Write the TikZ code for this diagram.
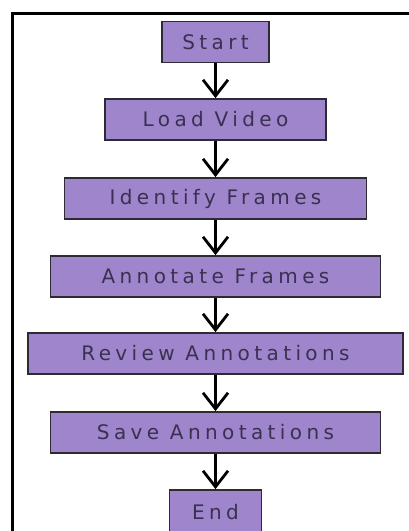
\documentclass[tikz,border=0pt]{standalone}
\usepackage{fontspec}
\setmainfont{DejaVu Sans}[LetterSpace=22.0]
\usetikzlibrary{arrows.meta}
\definecolor{boxfill}{HTML}{9E85CC}
\definecolor{boxline}{HTML}{2E2A33}
\definecolor{boxtext}{HTML}{3A3150}
\tikzset{
  stepbox/.style={draw=boxline, line width=1.8pt, fill=boxfill, rectangle,
    inner sep=0pt, minimum height=41pt, text=boxtext,
    font=\fontsize{20}{24}\selectfont},
  flow/.style={draw=black, line width=3.2pt,
    -{Straight Barb[length=16pt,width=25pt,line width=2.8pt]}},
  frame/.style={draw=black, line width=3pt}
}
\begin{document}
\begin{tikzpicture}[x=1pt,y=-1pt]
  \useasboundingbox (0,0) rectangle (408,531);
  % page frame: top and left rules
  \coordinate (ftr) at (410,13);
  \coordinate (ftl) at (12,13);
  \coordinate (fbl) at (12,533);
  \draw[frame] (ftr) -- (ftl) -- (fbl);

  \node[stepbox, minimum width=107pt] (start) at (215.5,42) {Start};
  \node[stepbox, minimum width=221pt] (load)  at (215.5,119.5) {Load Video};
  \node[stepbox, minimum width=302pt] (ident) at (215.5,198.5) {Identify Frames};
  \node[stepbox, minimum width=330pt] (annot) at (215.5,276.5) {Annotate Frames};
  \node[stepbox, minimum width=375pt] (review) at (215.5,353.5) {Review Annotations};
  \node[stepbox, minimum width=330pt] (save)  at (215.5,432.5) {Save Annotations};
  \node[stepbox, minimum width=92pt, minimum height=44pt] (end) at (215.5,512) {End};

  \draw[flow] (start) -- (load);
  \draw[flow] (load) -- (ident);
  \draw[flow] (ident) -- (annot);
  \draw[flow] (annot) -- (review);
  \draw[flow] (review) -- (save);
  \draw[flow] (save) -- (end);
\end{tikzpicture}
\end{document}
